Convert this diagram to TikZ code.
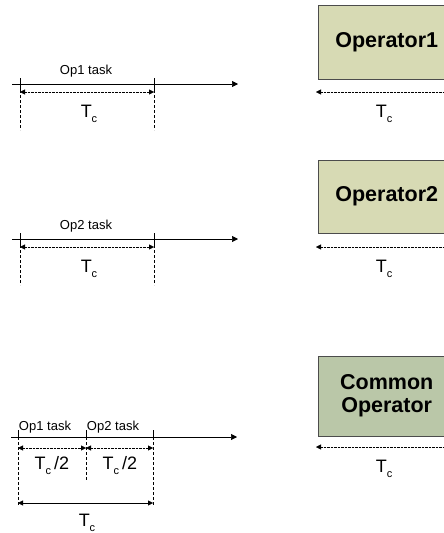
\documentclass[tikz,border=0pt]{standalone}
\usepackage{fontspec}
\setmainfont{Liberation Sans}
\usetikzlibrary{arrows.meta}

\definecolor{opfill}{RGB}{215,218,180}
\definecolor{comfill}{RGB}{186,199,168}
\newcommand{\Tc}{T\raisebox{-5pt}{\fontsize{11}{11}\selectfont c}}

\begin{document}
\begin{tikzpicture}[x=1pt,y=-1pt,>={Triangle[length=5pt,width=5pt]},
  axis/.style={->,semithick,>={Triangle[length=6pt,width=6pt]}},
  dimline/.style={<->,thin,densely dotted},
  guide/.style={thin,dash pattern=on 3pt off 2pt},
  task/.style={font=\fontsize{13}{13}\selectfont,inner sep=0pt},
  tclab/.style={font=\fontsize{18}{18}\selectfont,inner sep=0pt},
  opbox/.style={draw=black!70,thin,anchor=north west,minimum width=137pt,
    align=center,font=\fontsize{21.5}{23}\selectfont\bfseries}]
\useasboundingbox (0,0) rectangle (444,533);
\clip (0,0) rectangle (444,533);
% one operator per task
\foreach \y/\n in {84/1,239/2}{
\draw[axis] (12,\y)--(238,\y);
\foreach \x in {20,154}{
\draw (\x,\y-6)--(\x,\y+6);
\draw[guide] (\x,\y+6)--(\x,\y+46);}
\draw[dimline] (20,\y+8)--(154,\y+8);
\node[task] (task\n) at (86,\y-13) {Op\n\ task};
\node[tclab] (tc\n) at (89,\y+30) {\Tc};}
% shared operator
\draw[axis] (11,437)--(237,437);
\foreach \x/\l in {18/505,86/480,153/505}{
\draw (\x,430)--(\x,437);
\draw[guide] (\x,437)--(\x,\l);}
\draw[dimline] (18,448)--(86,448);
\draw[dimline] (86,448)--(153,448);
\draw[<->,thin] (18,503)--(153,503);
\node[task] (task3) at (45,427) {Op1 task};
\node[task] (task4) at (113,427) {Op2 task};
\node[tclab] (half1) at (52,466) {\Tc\,/2};
\node[tclab] (half2) at (120,466) {\Tc\,/2};
\node[tclab] (tc3) at (87,523) {\Tc};
% operators
\node[opbox,fill=opfill,minimum height=74pt] (op1) at (318,5) {Operator1};
\node[opbox,fill=opfill,minimum height=73pt] (op2) at (318,160) {Operator2};
\node[opbox,fill=comfill,minimum height=80pt] (com) at (318,356) {Common\\Operator};
\foreach \b/\y in {op1/92,op2/247,com/447}{
\draw[dimline] (316,\y)--(449,\y);
\node[tclab] at (384,\y+22) {\Tc};}
\end{tikzpicture}
\end{document}
